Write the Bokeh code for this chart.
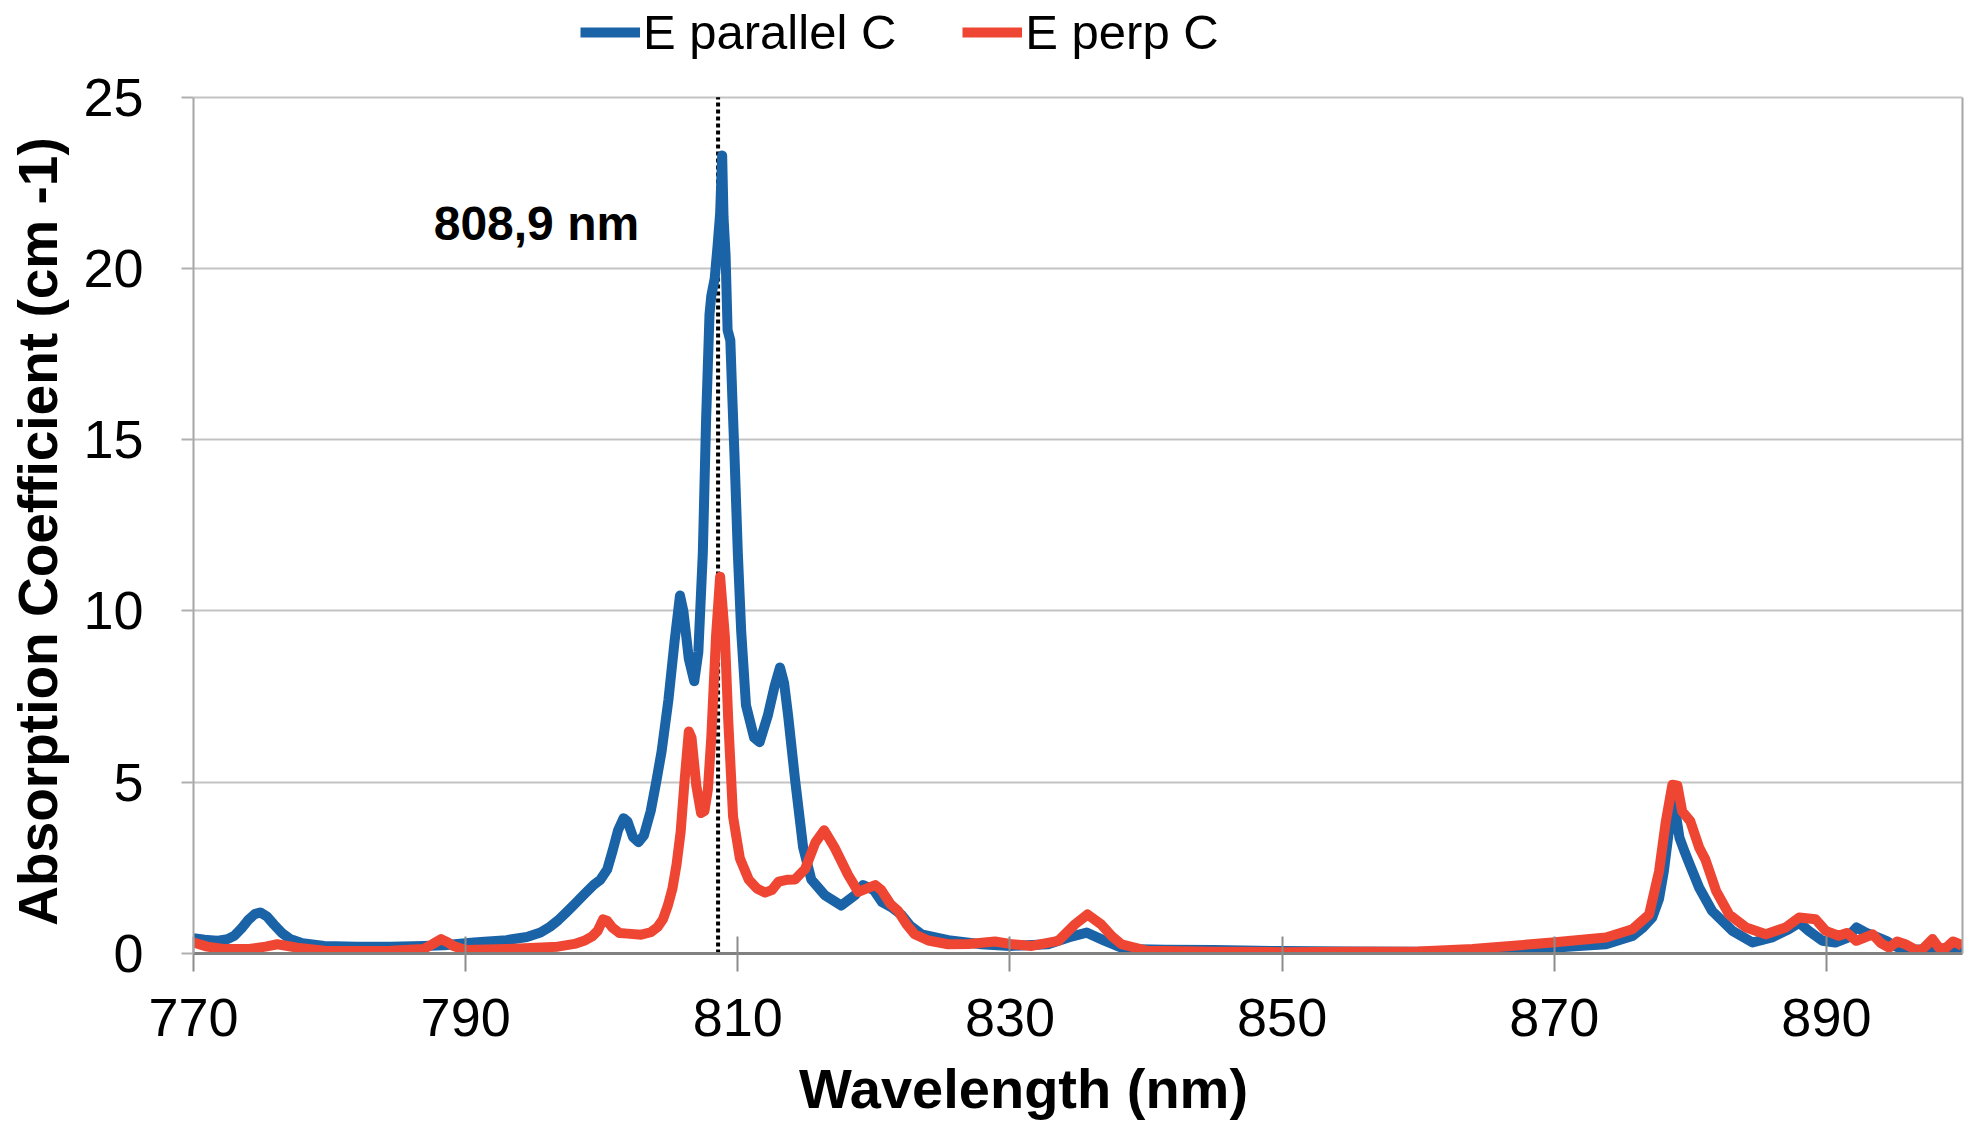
from bokeh.plotting import figure
from bokeh.models import (Range1d, FixedTicker, Label, Legend, LegendItem, LinearAxis)
from bokeh.embed import file_html
from bokeh.resources import INLINE

# ---- data ----
wl_par = [770.0, 770.8, 771.7, 772.5, 773.0, 773.5, 774.0, 774.5, 774.9, 775.4, 775.9, 776.5,
          777.1, 778.0, 779.6, 782.0, 784.5, 786.9, 788.4, 790.6, 793.0, 794.5, 795.5, 796.2,
          796.8, 797.4, 798.0, 798.7, 799.4, 799.9, 800.4, 800.8, 801.2, 801.6, 801.9, 802.3,
          802.7, 803.1, 803.6, 804.0, 804.4, 804.9, 805.35, 805.75, 806.0, 806.4, 806.8, 807.1,
          807.43, 807.67, 807.92, 808.05, 808.3, 808.5, 808.7, 808.85, 808.95, 809.1, 809.25,
          809.45, 809.6, 809.76, 810.0, 810.25, 810.6, 811.2, 811.6, 812.2, 812.7, 813.1, 813.4,
          813.7, 814.2, 814.8, 815.4, 816.4, 817.6, 818.6, 819.2, 820.0, 820.6, 821.3, 822.0,
          822.7, 823.5, 825.46, 827.9, 830.0, 832.8, 834.3, 835.64, 836.98, 838.45, 841.4,
          845.0, 850.0, 855.0, 860.0, 864.0, 869.85, 873.8, 875.74, 876.5, 877.2, 877.7, 878.05,
          878.4, 878.75, 879.0, 879.2, 879.6, 879.95, 880.65, 881.6, 883.1, 884.57, 886.0, 887.2,
          888.0, 888.7, 889.7, 890.65, 891.5, 892.2, 892.9, 893.6, 894.4, 895.1, 895.8, 896.8,
          897.5, 898.3, 899.2, 900.0]
abs_par = [0.45, 0.40, 0.37, 0.42, 0.52, 0.72, 0.97, 1.15, 1.20, 1.08, 0.85, 0.60,
           0.42, 0.30, 0.22, 0.20, 0.20, 0.22, 0.24, 0.32, 0.39, 0.48, 0.61, 0.78,
           0.97, 1.20, 1.44, 1.72, 2.00, 2.15, 2.45, 3.00, 3.60, 3.95, 3.85, 3.40,
           3.25, 3.45, 4.16, 5.0, 5.9, 7.4, 9.1, 10.45, 10.0, 8.6, 7.95, 8.8,
           11.7, 15.6, 18.66, 19.2, 19.7, 20.6, 21.6, 23.3, 21.5, 20.4, 18.2,
           17.9, 16.2, 14.5, 11.7, 9.4, 7.25, 6.3, 6.17, 6.94, 7.8, 8.35, 7.9,
           6.94, 5.1, 3.1, 2.16, 1.7, 1.4, 1.7, 2.0, 1.85, 1.5, 1.35, 1.14,
           0.8, 0.56, 0.39, 0.27, 0.22, 0.27, 0.47, 0.61, 0.37, 0.13, 0.11,
           0.10, 0.07, 0.06, 0.05, 0.03, 0.17, 0.27, 0.51, 0.75, 1.05, 1.6, 2.4,
           3.5, 4.5, 3.9, 3.38, 2.95, 2.6, 1.92, 1.24, 0.66, 0.32, 0.47, 0.7,
           0.9, 0.66, 0.37, 0.32, 0.45, 0.76, 0.61, 0.5, 0.37, 0.2, 0.1, 0.12,
           0.05, 0.08, 0.04, 0.06]

wl_perp = [770.0, 771.0, 772.2, 774.1, 775.3, 776.16, 777.6, 779.6, 782.0, 784.5, 786.9, 787.6,
           788.2, 788.7, 789.1, 790.0, 793.0, 796.76, 798.0, 798.7, 799.3, 799.7, 800.1, 800.4,
           800.8, 801.3, 801.9, 802.9, 803.6, 804.1, 804.5, 804.86, 805.2, 805.5, 805.8, 806.1,
           806.4, 806.6, 806.95, 807.3, 807.55, 807.8, 808.05, 808.4, 808.7, 809.05, 809.3,
           809.65, 810.15, 810.8, 811.4, 812.0, 812.5, 813.0, 813.6, 814.2, 814.95, 815.7,
           816.35, 817.1, 818.1, 818.85, 819.5, 820.1, 820.55, 821.2, 821.78, 822.4, 823.0,
           824.0, 825.46, 827.0, 828.9, 830.0, 831.6, 833.55, 834.77, 835.7, 836.7, 837.5,
           838.2, 840.1, 845.0, 850.0, 855.0, 860.0, 864.0, 869.85, 873.8, 875.74, 876.97,
           877.7, 878.2, 878.68, 879.05, 879.4, 880.0, 880.65, 881.1, 881.9, 882.85, 884.1,
           885.55, 887.0, 888.0, 889.2, 889.95, 890.9, 891.5, 892.2, 893.4, 894.0, 894.6,
           895.2, 895.8, 896.5, 897.0, 897.8, 898.3, 898.8, 899.3, 899.8, 900.0]
abs_perp = [0.32, 0.20, 0.13, 0.13, 0.20, 0.27, 0.17, 0.08, 0.07, 0.08, 0.13, 0.28,
            0.42, 0.32, 0.22, 0.10, 0.13, 0.20, 0.28, 0.37, 0.50, 0.66, 1.0, 0.95,
            0.75, 0.6, 0.58, 0.55, 0.62, 0.77, 1.0, 1.4, 1.9, 2.6, 3.55, 5.1,
            6.48, 6.3, 4.9, 4.1, 4.16, 4.78, 6.3, 9.26, 11.0, 9.26, 6.78,
            4.0, 2.78, 2.16, 1.9, 1.78, 1.85, 2.1, 2.15, 2.16, 2.47, 3.24,
            3.6, 3.1, 2.3, 1.8, 1.9, 2.0, 1.85, 1.45, 1.24, 0.85, 0.56,
            0.38, 0.27, 0.28, 0.35, 0.28, 0.22, 0.37, 0.85, 1.14, 0.85, 0.5,
            0.27, 0.08, 0.05, 0.04, 0.05, 0.06, 0.13, 0.32, 0.47, 0.71, 1.14,
            2.4, 3.86, 4.93, 4.9, 4.15, 3.86, 3.09, 2.75, 1.82, 1.14, 0.76,
            0.56, 0.76, 1.05, 1.0, 0.66, 0.52, 0.6, 0.37, 0.56, 0.3, 0.17,
            0.35, 0.27, 0.12, 0.1, 0.42, 0.15, 0.17, 0.35, 0.27, 0.2]

series_names = ["E parallel C", "E perp C"]
series_colors = ["#1b63a7", "#ee4632"]
x_ticks = [770, 790, 810, 830, 850, 870, 890]
y_ticks = [0, 5, 10, 15, 20, 25]
marker_line_wl = 808.55   # where the dotted line is drawn in the picture
marker_text = "808,9 nm"
x_title = "Wavelength (nm)"
y_title = "Absorption Coefficient  (cm -1)"

FONT = "Liberation Sans"
NBSP = "\u00a0"

# layout (pixels): the data area spans y 0..25 between page rows 97 and 956;
# the frame is extended upward so that the legend can sit above the data area
FRAME_TOP, DATA_TOP, DATA_BOTTOM = 2, 97, 956
y_lo, y_hi = y_ticks[0], y_ticks[-1]
px_per_unit = (DATA_BOTTOM - DATA_TOP) / (y_hi - y_lo)
y_view_top = y_hi + (DATA_TOP - FRAME_TOP) / px_per_unit

p = figure(width=1972, height=1122, output_backend="svg", toolbar_location=None,
           x_range=Range1d(770, 900), y_range=Range1d(y_lo, y_view_top),
           min_border_left=193, min_border_right=10, min_border_top=FRAME_TOP,
           min_border_bottom=1122 - DATA_BOTTOM)

p.background_fill_color = "white"
p.border_fill_color = "white"
p.outline_line_color = None

# grids
p.xgrid.grid_line_color = None
p.ygrid.grid_line_color = "#c3c3c3"
p.ygrid.grid_line_width = 2
p.ygrid.ticker = FixedTicker(ticks=y_ticks)

# x axis
p.xaxis.ticker = FixedTicker(ticks=x_ticks)
p.xaxis.axis_line_color = "#808080"
p.xaxis.axis_line_width = 3
p.xaxis.major_tick_line_color = "#8c8c8c"
p.xaxis.major_tick_line_width = 2
p.xaxis.major_tick_in = 17
p.xaxis.major_tick_out = 18
p.xaxis.minor_tick_line_color = None
p.xaxis.major_label_text_font = FONT
p.xaxis.major_label_text_font_size = "54px"
p.xaxis.major_label_text_color = "black"
p.xaxis.major_label_standoff = 27
# trailing no-break spaces shift the centred title left, as in the reference
p.xaxis.axis_label = x_title + NBSP * 7
p.xaxis.axis_label_text_font = FONT
p.xaxis.axis_label_text_font_style = "bold"
p.xaxis.axis_label_text_font_size = "56px"
p.xaxis.axis_label_text_color = "black"
p.xaxis.axis_label_standoff = 18

# y axis (line only over the data area)
p.yaxis.bounds = (y_lo, y_hi)
p.yaxis.ticker = FixedTicker(ticks=y_ticks)
p.yaxis.axis_line_color = "#a6a6a6"
p.yaxis.axis_line_width = 2
p.yaxis.major_tick_line_color = "#b0b0b0"
p.yaxis.major_tick_line_width = 2
p.yaxis.major_tick_in = 0
p.yaxis.major_tick_out = 12
p.yaxis.minor_tick_line_color = None
p.yaxis.major_label_text_font = FONT
p.yaxis.major_label_text_font_size = "54px"
p.yaxis.major_label_text_color = "black"
p.yaxis.major_label_standoff = 38
p.yaxis.axis_label = y_title + NBSP * 6
p.yaxis.axis_label_text_font = FONT
p.yaxis.axis_label_text_font_style = "bold"
p.yaxis.axis_label_text_font_size = "55px"
p.yaxis.axis_label_text_color = "black"
p.yaxis.axis_label_standoff = 11

# right border of the data area
right_axis = LinearAxis(bounds=(y_lo, y_hi), ticker=FixedTicker(ticks=[]),
                        axis_line_color="#a6a6a6", axis_line_width=2,
                        major_tick_line_color=None, minor_tick_line_color=None,
                        major_label_standoff=0)
p.add_layout(right_axis, "right")

# marker line + label
p.segment(x0=[marker_line_wl], y0=[y_lo], x1=[marker_line_wl], y1=[y_hi], line_color="black",
          line_width=4, line_dash="4 3")
p.add_layout(Label(x=795.2, y=21.3, text=marker_text, text_font=FONT,
                   text_font_style="bold", text_font_size="48px", text_color="black",
                   text_align="center", text_baseline="middle"))

r_par = p.line(wl_par, abs_par, line_color=series_colors[0], line_width=10, line_join="round")
r_perp = p.line(wl_perp, abs_perp, line_color=series_colors[1], line_width=10, line_join="round")

legend = Legend(items=[LegendItem(label=series_names[0], renderers=[r_par]),
                       LegendItem(label=series_names[1], renderers=[r_perp])],
                orientation="horizontal", location=(387, 893),
                label_text_font=FONT, label_text_font_size="49px", label_text_color="black",
                glyph_width=60, glyph_height=50, label_standoff=3, spacing=66,
                padding=0, margin=0, border_line_color=None, background_fill_alpha=0)
p.add_layout(legend, "center")

open("out.html", "w").write(file_html(p, INLINE))
